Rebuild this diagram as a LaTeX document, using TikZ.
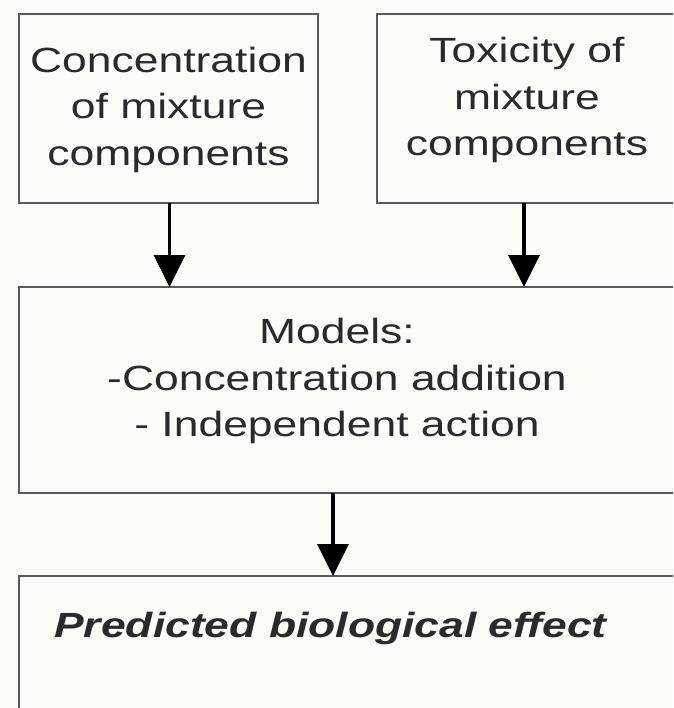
\documentclass[tikz,border=0pt]{standalone}
\usepackage{fontspec}
\setmainfont{Liberation Sans}[FakeStretch=1.27]
\usetikzlibrary{arrows.meta}
\definecolor{bg}{HTML}{FCFCF7}
\definecolor{frame}{HTML}{5A5A5A}
\definecolor{ink}{HTML}{2A2A2A}
\begin{document}
\begin{tikzpicture}[x=1pt,y=-1pt,
  box/.style={draw=frame,line width=2.5pt,fill=bg,rectangle,inner sep=0pt,outer sep=0pt},
  lbl/.style={text=ink,align=center,inner sep=0pt,font=\fontsize{35}{46.5}\selectfont},
  arr/.style={draw=black,line width=3.5pt,-{Triangle[width=31pt,length=32pt]}}]
\useasboundingbox (0,0) rectangle (673,708);
\fill[bg] (0,0) rectangle (673,708);
\clip (0,0) rectangle (673,708);
% boxes
\node[box,minimum width=299pt,minimum height=189pt] (c1) at (168.5,108.5) {};
\node[box,minimum width=300pt,minimum height=189pt] (c2) at (527,108.5) {};
\node[box,minimum width=671pt,minimum height=206pt] (m) at (354.5,390) {};
\node[box,minimum width=671pt,minimum height=154pt] (p) at (354.5,653) {};
% texts
\node[lbl] (t1) at (168.5,109.5) {Concentration\\of mixture\\components};
\node[lbl] (t2) at (527,100) {Toxicity of\\mixture\\components};
\node[lbl] (t3) at (337,381) {Models:\\-Concentration addition\\- Independent action};
\node[lbl,anchor=base west,font=\fontsize{35}{42}\selectfont\bfseries\itshape] (t4) at (54,637) {Predicted biological effect};
% connectors
\draw[arr] ([xshift=1pt]c1.south) -- ([xshift=1pt]c1.south |- m.north);
\draw[arr] ([xshift=-3pt]c2.south) -- ([xshift=-3pt]c2.south |- m.north);
\draw[arr] ([xshift=-4pt]t3.center |- m.south) -- ([xshift=-4pt]t3.center |- p.north);
\end{tikzpicture}
\end{document}
